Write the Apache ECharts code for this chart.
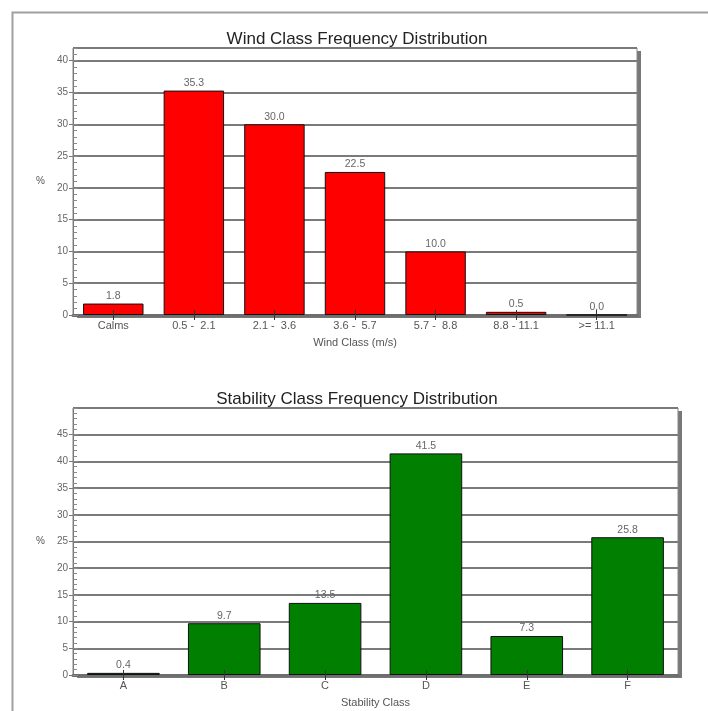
<!DOCTYPE html>
<html>
<head>
<meta charset="utf-8">
<script src="https://cdn.jsdelivr.net/npm/echarts@6/dist/echarts.min.js"></script>
<style>html,body{margin:0;padding:0;background:#fff}#c{width:708px;height:711px}</style>
</head>
<body>
<div id="c"></div>
<script>
const windCategories = ['Calms', '0.5 -  2.1', '2.1 -  3.6', '3.6 -  5.7', '5.7 -  8.8', '8.8 - 11.1', '>= 11.1'];
const windValues = [1.8, 35.3, 30.0, 22.5, 10.0, 0.5, 0.0];
const stabCategories = ['A', 'B', 'C', 'D', 'E', 'F'];
const stabValues = [0.4, 9.7, 13.5, 41.5, 7.3, 25.8];
const windTicks = [0, 5, 10, 15, 20, 25, 30, 35, 40];
const stabTicks = [0, 5, 10, 15, 20, 25, 30, 35, 40, 45];

const FONT = 'Arial, "Liberation Sans", sans-serif';
const chart = echarts.init(document.getElementById('c'), null, {renderer: 'canvas'});

function shadowGrid(top, bottom, right) {
  return {
    left: 73, right: right, top: top, bottom: bottom, show: true,
    backgroundColor: '#fff', borderWidth: 0, borderColor: 'transparent',
    shadowColor: '#787878', shadowOffsetX: 4, shadowOffsetY: 3, shadowBlur: 0
  };
}
function mainGrid(top, bottom, right) {
  return {
    left: 73, right: right, top: top, bottom: bottom, show: true,
    backgroundColor: 'transparent', borderColor: '#888', borderWidth: 1
  };
}
function yMain(gi, max, name, ticks) {
  return {
    type: 'value', gridIndex: gi, min: 0, max: max, interval: 5,
    name: name, nameLocation: 'middle', nameGap: 28, nameRotate: 0,
    nameTextStyle: {fontSize: 10, color: '#555', fontFamily: FONT},
    axisLine: {show: true, lineStyle: {color: '#777', width: 1}},
    axisTick: {show: true, inside: false, length: 4, lineStyle: {color: '#777'}},
    axisLabel: {fontSize: 10, color: '#666', fontFamily: FONT, margin: 5, showMaxLabel: false,
      formatter: v => (ticks.indexOf(v) >= 0 ? String(v) : '')},
    splitLine: {show: true, lineStyle: {color: '#7a7a7a', width: 2}}
  };
}
function yMinor(gi, max) {
  return {
    type: 'value', gridIndex: gi, min: 0, max: max, interval: 5, position: 'left',
    axisLine: {show: false}, axisLabel: {show: false}, splitLine: {show: false},
    axisTick: {show: true, inside: true, length: 5, lineStyle: {color: '#888'}},
    minorTick: {show: true, splitNumber: 5, length: 4, lineStyle: {color: '#888'}}
  };
}
function xAxisDef(gi, cats, name) {
  return {
    type: 'category', gridIndex: gi, data: cats,
    name: name, nameLocation: 'middle', nameGap: 22,
    nameTextStyle: {fontSize: 11, color: '#555', fontFamily: FONT},
    axisLine: {show: true, lineStyle: {color: '#6e6e6e', width: 3}},
    axisTick: {show: true, alignWithLabel: true, length: 5, inside: false, lineStyle: {color: '#333'}},
    axisLabel: {fontSize: 11, color: '#555', fontFamily: FONT, margin: 5}
  };
}
function xInner(gi, cats) {
  return {
    type: 'category', gridIndex: gi, data: cats, position: 'bottom', z: 5,
    axisLine: {show: false}, axisLabel: {show: false}, splitLine: {show: false},
    axisTick: {show: true, alignWithLabel: true, length: 5, inside: true, lineStyle: {color: '#333'}}
  };
}
function barSeries(xi, yi, data, color, gap) {
  return {
    type: 'bar', xAxisIndex: xi, yAxisIndex: yi, data: data,
    barCategoryGap: gap,
    itemStyle: {color: color, borderColor: '#111', borderWidth: 1},
    label: {show: true, position: 'top', distance: 2, fontSize: 10.5, color: '#666', fontFamily: FONT,
      formatter: p => p.value.toFixed(1)}
  };
}

chart.setOption({
  animation: false,
  backgroundColor: '#fff',
  title: [
    {text: 'Wind Class Frequency Distribution', left: 352, top: 26, textAlign: 'center',
      textStyle: {fontSize: 17, fontWeight: 'normal', color: '#222', fontFamily: FONT}},
    {text: 'Stability Class Frequency Distribution', left: 352, top: 386, textAlign: 'center',
      textStyle: {fontSize: 17, fontWeight: 'normal', color: '#222', fontFamily: FONT}}
  ],
  graphic: [{type: 'rect', left: 10, top: 10, shape: {width: 760, height: 760},
    style: {fill: null, stroke: '#a0a0a0', lineWidth: 2}, silent: true}],
  grid: [shadowGrid(48, 396, 71), mainGrid(48, 396, 71), shadowGrid(408, 36, 30), mainGrid(408, 36, 30)],
  xAxis: [xAxisDef(1, windCategories, 'Wind Class (m/s)'), xAxisDef(3, stabCategories, 'Stability Class'),
          xInner(1, windCategories), xInner(3, stabCategories)],
  yAxis: [yMain(1, 42, '%', windTicks), yMinor(1, 42), yMain(3, 50, '%', stabTicks), yMinor(3, 50)],
  series: [
    barSeries(0, 0, windValues, '#ff0000', '25%'),
    barSeries(1, 2, stabValues, '#007f00', '28%')
  ]
});
</script>
</body>
</html>
